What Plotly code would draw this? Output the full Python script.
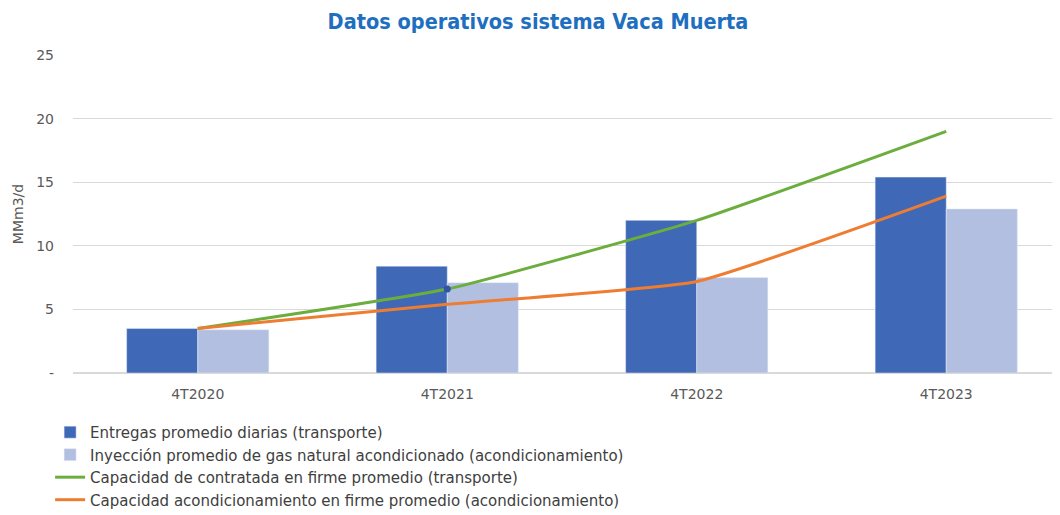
import plotly.graph_objects as go

# datos
trimestres = ["4T2020", "4T2021", "4T2022", "4T2023"]
entregas = [3.5, 8.4, 12.0, 15.4]
inyeccion = [3.4, 7.1, 7.5, 12.9]
cap_transporte = [3.5, 6.6, 12.0, 19.0]
cap_acondicionamiento = [3.5, 5.4, 7.2, 13.9]
# punto marcado sobre la linea verde
punto_x = ["4T2021"]
punto_y = [6.6]

fig = go.Figure()

fig.add_trace(go.Bar(x=trimestres, y=entregas, name="Entregas promedio diarias (transporte)",
                     marker_color="#3F68B6"))
fig.add_trace(go.Bar(x=trimestres, y=inyeccion,
                     name="Inyección promedio de gas natural acondicionado (acondicionamiento)",
                     marker_color="#B2BFE0"))
fig.add_trace(go.Scatter(x=trimestres, y=cap_transporte, mode="lines",
                         name="Capacidad de contratada en firme promedio (transporte)",
                         line=dict(color="#6BAE3E", width=3, shape="spline", smoothing=0.4)))
fig.add_trace(go.Scatter(x=trimestres, y=cap_acondicionamiento, mode="lines",
                         name="Capacidad acondicionamiento en firme promedio (acondicionamiento)",
                         line=dict(color="#EE7D31", width=3, shape="spline", smoothing=0.4)))
fig.add_trace(go.Scatter(x=punto_x, y=punto_y, mode="markers", showlegend=False,
                         marker=dict(color="#2F55A4", size=7)))

fig.update_layout(
    width=1060, height=515,
    barmode="group", bargap=0.43, bargroupgap=0,
    plot_bgcolor="white", paper_bgcolor="white",
    font=dict(family="DejaVu Sans", size=14, color="#595959"),
    title=dict(text="<b>Datos operativos sistema Vaca Muerta</b>", x=0.5, xanchor="center",
               y=0.973, yanchor="middle",
               font=dict(family="DejaVu Sans Condensed", size=21.5, color="#1E6FBF")),
    margin=dict(l=65, r=0, t=47, b=150),
    legend=dict(orientation="v", x=-0.023, xanchor="left", y=-0.135, yanchor="top",
                font=dict(size=15, color="#404040"), tracegroupgap=0, itemwidth=30),
    showlegend=True,
)

fig.update_yaxes(range=[0, 25], showgrid=True, gridcolor="#D9D9D9", gridwidth=1,
                 zeroline=True, zerolinecolor="#D9D9D9", automargin=False,
                 tickvals=[0, 5, 10, 15, 20, 25], ticktext=["-", "5", "10", "15", "20", "25"],
                 ticks="", ticklabelstandoff=18,
                 title=dict(text="MMm3/d", standoff=9, font=dict(size=14, color="#595959")))
fig.update_xaxes(range=[-0.5, 3.488], showline=True, linecolor="#D9D9D9", ticks="",
                 automargin=False, ticklabelstandoff=8, tickfont=dict(color="#595959"))

fig.write_html("out.html")
